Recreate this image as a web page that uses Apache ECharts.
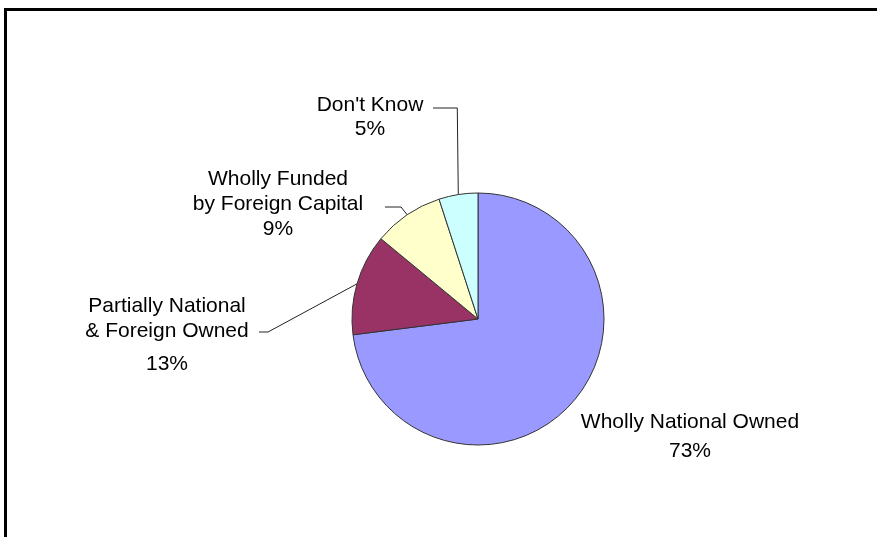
<!DOCTYPE html>
<html>
<head>
<meta charset="utf-8">
<script src="https://cdn.jsdelivr.net/npm/echarts@6/dist/echarts.min.js"></script>
<style>
  html, body { margin: 0; padding: 0; background: #fff; }
  #frame { position: absolute; left: 4px; top: 8px; width: 900px; height: 600px; border-left: 3px solid #000; border-top: 3px solid #000; }
  #chart { width: 877px; height: 537px; position: absolute; left: 0; top: 0; }
</style>
</head>
<body>
<div id="frame"></div>
<div id="chart"></div>
<script>
// ownership shares (%), clockwise from 12 o'clock
const categories = ['Wholly National Owned', 'Partially National\n& Foreign Owned', 'Wholly Funded\nby Foreign Capital', "Don't Know"];
const shares = [73, 13, 9, 5];
const sliceColors = ['#9999FF', '#993366', '#FFFFCC', '#CCFFFF'];

// where each label block sits (top-centre) and the gap before the % line
const labelSpots = [
  { x: 690, y: 410, pctLine: 33 },
  { x: 167, y: 294, pctLine: 41 },
  { x: 278, y: 167, pctLine: 25 },
  { x: 370, y: 93, pctLine: 23 }
];

const FONT = 'Liberation Sans, Arial, sans-serif';

const chart = echarts.init(document.getElementById('chart'));

chart.setOption({
  animation: false,
  series: [{
    type: 'pie',
    center: [478, 319],
    radius: 126,
    startAngle: 90,
    clockwise: true,
    silent: true,
    itemStyle: { borderColor: '#333', borderWidth: 1 },
    label: {
      show: true,
      color: '#000',
      fontFamily: FONT,
      fontSize: 21,
      lineHeight: 25,
      align: 'center',
      formatter: function (p) {
        return p.name + '\n{p' + p.dataIndex + '|' + p.value + '%}';
      },
      rich: {
        p0: { fontSize: 21, lineHeight: labelSpots[0].pctLine, fontFamily: FONT, color: '#000' },
        p1: { fontSize: 21, lineHeight: labelSpots[1].pctLine, fontFamily: FONT, color: '#000' },
        p2: { fontSize: 21, lineHeight: labelSpots[2].pctLine, fontFamily: FONT, color: '#000' },
        p3: { fontSize: 21, lineHeight: labelSpots[3].pctLine, fontFamily: FONT, color: '#000' }
      }
    },
    labelLine: { show: true, lineStyle: { color: '#222', width: 1 } },
    labelLayout: function (params) {
      const spot = labelSpots[params.dataIndex];
      const out = { x: spot.x, y: spot.y, align: 'center', verticalAlign: 'top' };
      const pts = params.labelLinePoints;
      if (pts && pts.length) {
        const edge = pts[0];
        if (params.dataIndex === 3) {
          out.labelLinePoints = [edge, [edge[0] - 1, 108], [433, 108]];
        } else if (params.dataIndex === 2) {
          out.labelLinePoints = [edge, [401, 207], [385, 207]];
        } else if (params.dataIndex === 1) {
          out.labelLinePoints = [edge, [268, 332], [259, 332]];
        }
      }
      return out;
    },
    data: categories.map((name, i) => ({
      name: name,
      value: shares[i],
      itemStyle: { color: sliceColors[i] },
      labelLine: { show: i !== 0 }
    }))
  }]
});
</script>
</body>
</html>
